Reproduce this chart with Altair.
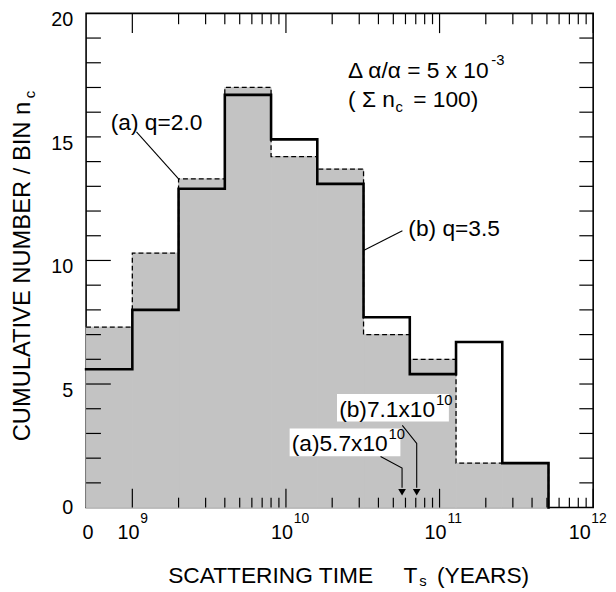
import altair as alt
import pandas as pd

# ---------------- data ----------------
bin_edges = [5e8, 1e9, 2e9, 4e9, 8e9, 1.6e10, 3.2e10, 6.4e10, 1.28e11, 2.56e11, 5.12e11]
n_q20 = [7.3, 10.3, 13.3, 17.0, 14.2, 13.7, 7.0, 6.0, 1.8, 1.8]   # (a) q=2.0  dashed, shaded
n_q35 = [5.6, 8.0, 12.9, 16.7, 14.9, 13.1, 7.7, 5.4, 6.7, 1.8]    # (b) q=3.5  solid
T_a = 5.7e10
T_b = 7.1e10

x_major = [1e9, 1e10, 1e11, 1e12]
x_minor = [k * 10 ** d for d in (9, 10, 11) for k in range(2, 10)]
y_major = [5, 10]
y_minor = [v for v in range(1, 20) if v not in (5, 10)]
y_all = list(range(1, 20))
y_labels = [5, 10, 15, 20]
x_label_pos = [1e9, 1e10, 1e11]
x_label_exp = ["9", "10", "11"]

FONT = "Liberation Sans"
W, H = 513, 500
GRAY = "#c3c3c3"

xs = alt.Scale(type="log", domain=[5e8, 1e12], nice=False)
ys = alt.Scale(domain=[0, 20], nice=False, zero=False)


def X(f):
    return alt.X(f, type="quantitative", scale=xs, axis=None)


def Y(f):
    return alt.Y(f, type="quantitative", scale=ys, axis=None)


def steps(vals):
    xx, yy = [], []
    for i, v in enumerate(vals):
        xx += [bin_edges[i], bin_edges[i + 1]]
        yy += [v, v]
    xx.append(bin_edges[-1])
    yy.append(0.0)
    return pd.DataFrame({"x": xx, "y": yy, "o": list(range(len(xx)))})


bins = pd.DataFrame({"x0": bin_edges[:-1], "x1": bin_edges[1:], "a": n_q20})
bins["z"] = 0.0
shade = alt.Chart(bins).mark_rect(fill=GRAY, stroke=GRAY, strokeWidth=1).encode(
    x=X("x0"), x2="x1", y=Y("z"), y2="a")

line_a = alt.Chart(steps(n_q20)).mark_line(
    color="black", strokeWidth=1.3, strokeDash=[5, 3]).encode(
    x=X("x"), y=Y("y"), order="o:Q")

line_b = alt.Chart(steps(n_q35)).mark_line(
    color="black", strokeWidth=2.6, strokeJoin="miter", strokeCap="square").encode(
    x=X("x"), y=Y("y"), order="o:Q")


# ticks (inward)
def xticks(vals, top, length):
    df = pd.DataFrame({"x": vals})
    if top:
        yv, y2v = 0, length
    else:
        yv, y2v = H, H - length
    return alt.Chart(df).mark_rule(color="black", strokeWidth=1.2).encode(
        x=X("x"), y=alt.value(yv), y2=alt.value(y2v))


def yticks(vals, right, length):
    df = pd.DataFrame({"y": vals})
    if right:
        xv, x2v = W - length, W
    else:
        xv, x2v = 0, length
    return alt.Chart(df).mark_rule(color="black", strokeWidth=1.2).encode(
        y=Y("y"), x=alt.value(xv), x2=alt.value(x2v))


ticks = [
    xticks(x_major, False, 19), xticks(x_minor, False, 10),
    xticks(x_major, True, 20), xticks(x_minor, True, 11),
    yticks(y_major, False, 25), yticks(y_minor, False, 15),
    yticks(y_all, True, 14),
]

# white label boxes
boxes = pd.DataFrame({
    "x0": [2.15e10, 1.057e10], "x1": [1.15e11, 5.56e10],
    "y0": [3.48, 2.08], "y1": [4.6, 3.2]})
box_layer = alt.Chart(boxes).mark_rect(fill="white").encode(
    x=X("x0"), x2="x1", y=Y("y0"), y2="y1")

# leader lines and arrows
lead_rows = [
    ("a", [(1.064e9, 15.2), (2.0e9, 13.3)]),
    ("b", [(5.73e10, 11.2), (3.2e10, 10.4)]),
    ("ta", [(4.13e10, 2.07), (T_a, 1.6), (T_a, 0.8)]),
    ("tb", [(5.72e10, 3.33), (T_b, 2.6), (T_b, 0.8)]),
]
rec = []
for k, pts in lead_rows:
    for i, (px, py) in enumerate(pts):
        rec.append({"id": k, "o": i, "x": px, "y": py})
leaders = alt.Chart(pd.DataFrame(rec)).mark_line(color="black", strokeWidth=1.1).encode(
    x=X("x"), y=Y("y"), detail="id:N", order="o:Q")

heads = alt.Chart(pd.DataFrame({"x": [T_a, T_b], "y": [0.62, 0.62]})).mark_point(
    shape="triangle-down", filled=True, color="black", opacity=1, size=60).encode(
    x=X("x"), y=Y("y"))


def dtext(x, y, t, size, dx=0, dy=0, align="left", baseline="alphabetic"):
    df = pd.DataFrame({"x": [x], "y": [y], "t": [t]})
    return alt.Chart(df).mark_text(
        font=FONT, fontSize=size, dx=dx, dy=dy, align=align, baseline=baseline,
        color="black").encode(x=X("x"), y=Y("y"), text="t:N")


def ptext(px, py, t, size, align="left", angle=0, baseline="alphabetic"):
    df = pd.DataFrame({"t": [t]})
    return alt.Chart(df).mark_text(
        font=FONT, fontSize=size, align=align, baseline=baseline, angle=angle,
        color="black").encode(x=alt.value(px), y=alt.value(py), text="t:N")


ann = [
    dtext(2.536e10, 17.4, "Δ α/α = 5 x 10", 23),
    dtext(2.536e10, 17.4, "-3", 15, dx=145, dy=-13),
    dtext(2.536e10, 16.2, "( Σ n", 23),
    dtext(2.536e10, 16.2, "c", 15, dx=48, dy=5),
    dtext(2.536e10, 16.2, "= 100)", 23, dx=66),
    dtext(7.24e8, 15.28, "(a) q=2.0", 23),
    dtext(6.26e10, 11.0, "(b) q=3.5", 23),
    dtext(2.22e10, 3.68, "(b)7.1x10", 23),
    dtext(2.22e10, 3.68, "10", 15, dx=98, dy=-12),
    dtext(1.09e10, 2.28, "(a)5.7x10", 23),
    dtext(1.09e10, 2.28, "10", 15, dx=98, dy=-12),
]

# axis labels (drawn as text so exponents can be raised)
ylab = alt.Chart(pd.DataFrame({"y": y_labels})).mark_text(
    font=FONT, fontSize=20, align="right", baseline="middle", dy=7,
    color="black").encode(y=Y("y"), x=alt.value(-13), text="y:Q")
ylab0 = ptext(-13, H + 1, "0", 20, align="right", baseline="middle")

xlab_df = pd.DataFrame({"x": x_label_pos, "e": x_label_exp})
xlab_base = alt.Chart(xlab_df).mark_text(
    font=FONT, fontSize=20, align="center", baseline="alphabetic", dx=-4,
    color="black").encode(x=X("x"), y=alt.value(H + 32), text=alt.value("10"))
xlab_exp = alt.Chart(xlab_df).mark_text(
    font=FONT, fontSize=14, align="left", baseline="alphabetic", dx=8,
    color="black").encode(x=X("x"), y=alt.value(H + 16), text="e:N")
xlab0 = ptext(2, H + 32, "0", 20, align="center")
xlab12 = ptext(W - 13.5, H + 32, "10", 20, align="center")
xlab12e = ptext(W - 2, H + 16, "12", 14)

titles = [
    ptext(83, 576, "SCATTERING TIME", 23),
    ptext(321, 576, "T", 23),
    ptext(337, 579, "s", 15),
    ptext(355, 576, "(YEARS)", 23),
    ptext(-57, 433, "CUMULATIVE NUMBER / BIN n", 24, angle=270),
    ptext(-52, 86, "c", 15, angle=270),
]

chart = alt.layer(
    shade, line_a, line_b, *ticks, box_layer, leaders, heads, *ann,
    ylab, ylab0, xlab_base, xlab_exp, xlab0, xlab12, xlab12e, *titles,
).properties(
    width=W, height=H,
    padding={"left": 79, "top": 2, "right": 15, "bottom": 82},
    autosize=alt.AutoSizeParams(type="none"),
).configure_view(stroke="black", strokeWidth=1.6)

chart.save("out.html", embed_options={"renderer": "svg", "actions": False})
